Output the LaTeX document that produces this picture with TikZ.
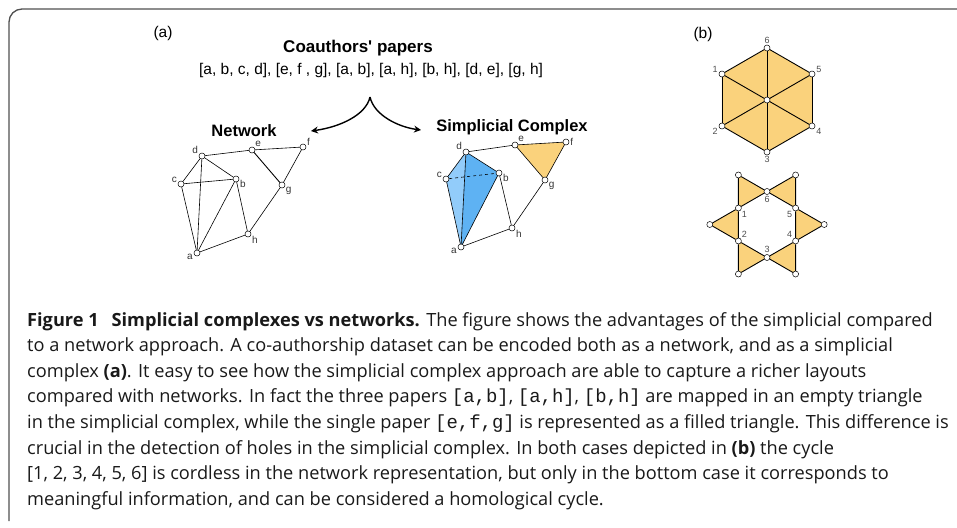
\documentclass[tikz,border=0pt]{standalone}
\usepackage{fontspec}
\setmainfont{Open Sans}
\setmonofont{Liberation Mono}[Scale=1.04]
\newfontfamily\figfont{Liberation Sans}
\usetikzlibrary{arrows.meta,backgrounds}
\definecolor{sun}{HTML}{FAD27C}
\definecolor{skylight}{HTML}{92CCFA}
\definecolor{skydark}{HTML}{5EB2F3}
\definecolor{framegray}{HTML}{505050}
\newcommand\lblfont{\figfont\fontsize{10}{10}\selectfont}
\newcommand\numfont{\figfont\fontsize{9}{9}\selectfont}
\newcommand\capfont{\fontsize{18.2}{25.6}\selectfont}
\begin{document}
\begin{tikzpicture}[x=1pt, y=-1pt,
  main/.style = {draw, circle, fill=white, inner sep=0pt, minimum size=6pt, line width=0.5pt},
  lbl/.style = {font=\lblfont, text=black!80, inner sep=0.8pt},
  num/.style = {font=\numfont, text=black!70, inner sep=1pt},
  edge/.style = {line width=0.6pt},
  hex/.style = {line width=0.9pt},
  title/.style = {font=\figfont\bfseries\fontsize{16.5}{18}\selectfont, inner sep=0pt},
  arr/.style = {line width=1.4pt, -{Stealth[length=7pt, width=7pt]}}]
\useasboundingbox (0,0) rectangle (957,527);
\draw[framegray, line width=1.3pt, rounded corners=13pt] (9,521) |- (958,9);
\node[font=\figfont\fontsize{15.5}{15.5}\selectfont] (pa) at (163,33) {(a)};
\node[font=\figfont\fontsize{15.5}{15.5}\selectfont] (pb) at (703,34) {(b)};
\node[title, font=\figfont\bfseries\fontsize{17}{18}\selectfont] (papers) at (358,48) {Coauthors' papers};
\node[font=\figfont\fontsize{15.5}{17}\selectfont] (list) at (371,70) {[a, b, c, d], [e, f , g], [a, b], [a, h], [b, h], [d, e], [g, h]};
\node[title] (net) at (244,131) {Network};
\node[title] (sim) at (512,127) {Simplicial Complex};
\coordinate (split) at (370,97);
\coordinate (tipnet) at (311,131);
\coordinate (tipsim) at (421,130);
\draw[arr] (split) .. controls (366,115) and (340,127) .. (tipnet);
\draw[arr] (split) .. controls (374,115) and (398,127) .. (tipsim);
\node[main, label={[lbl]185:a}] (na) at (197,253) {};
\node[main, label={[lbl]350:b}] (nb) at (236,179) {};
\node[main, label={[lbl]170:c}] (nc) at (181,184) {};
\node[main, label={[lbl]160:d}] (nd) at (202,156) {};
\node[main, label={[lbl]45:e}] (ne) at (252,150) {};
\node[main, label={[lbl]10:f}] (nf) at (303,147) {};
\node[main, label={[lbl]-30:g}] (ng) at (282,185) {};
\node[main, label={[lbl]-20:h}] (nh) at (248,234) {};
\draw[edge] (nd) -- (ne);
\draw[edge] (ne) -- (nf);
\draw[edge] (nf) -- (ng);
\draw[edge, line width=0.9pt] (ne) -- (ng);
\draw[edge] (ng) -- (nh);
\draw[edge] (nh) -- (na);
\draw[edge] (nh) -- (nb);
\draw[edge] (nd) -- (nc);
\draw[edge] (nd) -- (nb);
\draw[edge] (nd) -- (na);
\draw[edge] (nc) -- (nb);
\draw[edge] (nc) -- (na);
\draw[edge] (nb) -- (na);
\node[main, label={[lbl]185:a}] (sa) at (461,247) {};
\node[main, label={[lbl]350:b}] (sb) at (499,173) {};
\node[main, label={[lbl]170:c}] (sc) at (446,179) {};
\node[main, label={[lbl]160:d}] (sd) at (466,152) {};
\node[main, label={[lbl]45:e}] (se) at (515,145) {};
\node[main, label={[lbl]0:f}] (sf) at (566,142) {};
\node[main, label={[lbl]-30:g}] (sg) at (545,180) {};
\node[main, label={[lbl]-20:h}] (sh) at (512,228) {};
\begin{scope}[on background layer]
\fill[skylight] (sc.center) -- (sd.center) -- (sa.center) -- cycle;
\fill[skydark] (sd.center) -- (sb.center) -- (sa.center) -- cycle;
\fill[sun] (se.center) -- (sf.center) -- (sg.center) -- cycle;
\end{scope}
\draw[edge] (sd) -- (se);
\draw[edge] (se) -- (sf);
\draw[edge] (sf) -- (sg);
\draw[edge] (se) -- (sg);
\draw[edge] (sg) -- (sh);
\draw[edge] (sh) -- (sa);
\draw[edge] (sh) -- (sb);
\draw[edge] (sd) -- (sc);
\draw[edge] (sd) -- (sb);
\draw[edge] (sd) -- (sa);
\draw[edge, dashed] (sc) -- (sb);
\draw[edge] (sc) -- (sa);
\draw[edge] (sb) -- (sa);
\begin{scope}[shift={(767,100)}, y=1pt]
\node[main] (t0) at (0,0) {};
\foreach \k/\a/\p in {1/150/175, 2/210/200, 3/270/-90, 4/330/-20, 5/30/5, 6/90/90}
  \node[main, label={[num]\p:\k}] (t\k) at (\a:52) {};
\begin{scope}[on background layer]
\fill[sun] (t1.center) -- (t2.center) -- (t3.center) -- (t4.center) -- (t5.center) -- (t6.center) -- cycle;
\end{scope}
\foreach \k/\j in {1/2, 2/3, 3/4, 4/5, 5/6, 6/1} {
  \draw[hex] (t\k) -- (t\j);
  \draw[hex] (t0) -- (t\k);
}
\end{scope}
\begin{scope}[shift={(767,224.5)}, y=1pt]
\foreach \k/\a/\p in {1/150/-45, 2/210/45, 3/270/90, 4/330/135, 5/30/-135, 6/90/-90}
  \node[main, label={[num]\p:\k}] (s\k) at (\a:33) {};
\foreach \k/\j/\a in {5/6/60, 6/1/120, 1/2/180, 2/3/240, 3/4/300, 4/5/0} {
  \node[main] (o\k) at (\a:57.2) {};
  \begin{scope}[on background layer]
  \fill[sun] (s\k.center) -- (o\k.center) -- (s\j.center) -- cycle;
  \end{scope}
  \draw[hex] (s\k) -- (o\k) -- (s\j) -- (s\k);
}
\end{scope}
\node[anchor=north west, align=left, font=\capfont, inner sep=0pt, text=black!90] (cap) at (27,312) {%
\textbf{Figure 1\hspace{0.45em} Simplicial complexes vs networks.} The figure shows the advantages of the simplicial compared\\
to a network approach. A co-authorship dataset can be encoded both as a network, and as a simplicial\\
complex \textbf{(a)}. It easy to see how the simplicial complex approach are able to capture a richer layouts\\
compared with networks. In fact the three papers \texttt{[a,b]}, \texttt{[a,h]}, \texttt{[b,h]} are mapped in an empty triangle\\
in the simplicial complex, while the single paper \texttt{[e,f,g]} is represented as a filled triangle. This difference is\\
crucial in the detection of holes in the simplicial complex. In both cases depicted in \textbf{(b)} the cycle\\
{}[1, 2, 3, 4, 5, 6] is cordless in the network representation, but only in the bottom case it corresponds to\\
meaningful information, and can be considered a homological cycle.};
\end{tikzpicture}
\end{document}
